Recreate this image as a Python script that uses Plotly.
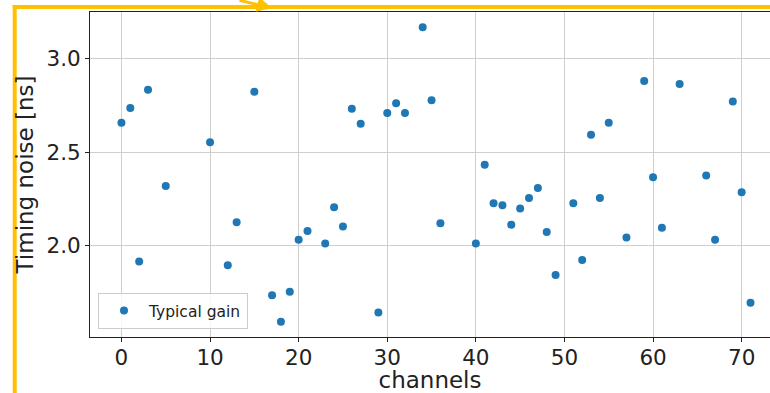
import plotly.graph_objects as go

# Timing noise per channel, typical gain setting
channels = [0, 1, 2, 3, 5, 10, 12, 13, 15, 17, 18, 19, 20, 21, 23, 24, 25, 26, 27, 29,
            30, 31, 32, 34, 35, 36, 40, 41, 42, 43, 44, 45, 46, 47, 48, 49, 51, 52, 53,
            54, 55, 57, 59, 60, 61, 63, 66, 67, 69, 70, 71]
timing_noise = [2.656, 2.735, 1.916, 2.832, 2.319, 2.553, 1.897, 2.126, 2.822, 1.737,
                1.595, 1.755, 2.033, 2.079, 2.012, 2.206, 2.103, 2.731, 2.651, 1.645,
                2.708, 2.761, 2.708, 3.166, 2.777, 2.120, 2.012, 2.433, 2.227, 2.216,
                2.113, 2.199, 2.255, 2.309, 2.074, 1.844, 2.227, 1.924, 2.592, 2.255,
                2.656, 2.045, 2.879, 2.366, 2.097, 2.863, 2.375, 2.033, 2.770, 2.286,
                1.697]

x_ticks = [0, 10, 20, 30, 40, 50, 60, 70]
y_ticks = [2.0, 2.5, 3.0]

W, H = 770, 393
ML, MR, MT, MB = 90, 0, 12, 56
PW, PH = W - ML - MR, H - MT - MB


def px(x):
    return (x - ML) / PW


def py(y):
    return (H - MB - y) / PH


FONT = "DejaVu Sans"
HIGHLIGHT = "#FFC000"

fig = go.Figure()
fig.add_trace(go.Scatter(
    x=channels, y=timing_noise, mode="markers", name="Typical gain",
    marker=dict(color="#1f77b4", size=8, line=dict(width=0)),
))

fig.update_layout(
    width=W, height=H,
    margin=dict(l=ML, r=MR, t=MT, b=MB, pad=0),
    paper_bgcolor="white", plot_bgcolor="white",
    font=dict(family=FONT, color="black"),
    showlegend=True,
    legend=dict(
        x=px(98), y=py(329), xanchor="left", yanchor="bottom",
        bgcolor="rgba(255,255,255,0.8)", bordercolor="#cccccc", borderwidth=1,
        font=dict(family=FONT, size=15.5, color="#222222"),
        itemwidth=40, tracegroupgap=0,
    ),
    xaxis=dict(
        range=[-3.55, 73.2], tickvals=x_ticks, ticktext=[str(v) for v in x_ticks],
        showgrid=True, gridcolor="#cfcfcf", gridwidth=1, zeroline=False,
        showline=True, linecolor="#222222", linewidth=1, mirror=True,
        ticks="outside", ticklen=4, tickwidth=1, tickcolor="#222222",
        ticklabelstandoff=-3,
        tickfont=dict(family=FONT, size=21.5, color="#222222"),
        title=dict(text="channels", font=dict(family=FONT, size=23, color="#222222"),
                   standoff=5),
    ),
    yaxis=dict(
        range=[1.514, 3.247], tickvals=y_ticks, ticktext=["2.0", "2.5", "3.0"],
        showgrid=True, gridcolor="#cfcfcf", gridwidth=1, zeroline=False,
        showline=True, linecolor="#222222", linewidth=1, mirror=False,
        ticks="outside", ticklen=4, tickwidth=1, tickcolor="#222222",
        tickfont=dict(family=FONT, size=21.5, color="#222222"),
        title=dict(text="Timing noise [ns]", font=dict(family=FONT, size=23, color="#222222"),
                   standoff=6),
    ),
)

# Highlight frame along the left and top edges
fig.add_shape(type="line", xref="paper", yref="paper",
              x0=px(14.7), x1=px(14.7), y0=py(5), y1=py(H + 2),
              line=dict(color=HIGHLIGHT, width=4), layer="above")
fig.add_shape(type="line", xref="paper", yref="paper",
              x0=px(12.7), x1=px(W + 2), y0=py(7), y1=py(7),
              line=dict(color=HIGHLIGHT, width=4), layer="above")

# Arrow pointing at the frame
fig.add_annotation(
    xref="paper", yref="paper", x=px(272), y=py(8), ax=-34, ay=-11,
    text="", showarrow=True, arrowhead=2, arrowsize=1, arrowwidth=3,
    arrowcolor=HIGHLIGHT,
)

fig.write_html("out.html")
